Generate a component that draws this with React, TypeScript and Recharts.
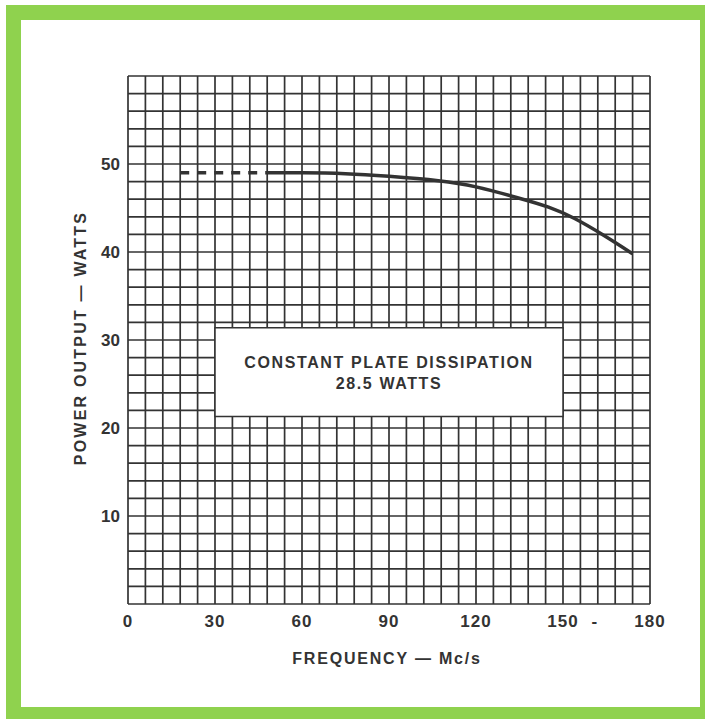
import {
  LineChart,
  Line,
  XAxis,
  YAxis,
  CartesianGrid,
  ReferenceArea,
  Label,
} from "recharts";

// dashed (extrapolated) part of the curve
const dashedPart = [
  { freq: 18, watts: 49.0 },
  { freq: 48, watts: 49.0 },
];

// measured part of the curve
const solidPart = [
  { freq: 48, watts: 49.0 },
  { freq: 60, watts: 49.0 },
  { freq: 75, watts: 48.9 },
  { freq: 90, watts: 48.6 },
  { freq: 107, watts: 48.1 },
  { freq: 120, watts: 47.4 },
  { freq: 134, watts: 46.2 },
  { freq: 145, watts: 45.1 },
  { freq: 154, watts: 43.8 },
  { freq: 164, watts: 41.9 },
  { freq: 174, watts: 39.8 },
];

const xTicks = [0, 30, 60, 90, 120, 150, 161, 180];
const yTicks = [10, 20, 30, 40, 50];

const noteLines = ["CONSTANT PLATE DISSIPATION", "28.5 WATTS"];

// graph paper: a line every 6 Mc/s and every 2 watts
const gridX = Array.from({ length: 31 }, (_, i) => i * 6);
const gridY = Array.from({ length: 31 }, (_, i) => i * 2);

const ink = "#333333";
const green = "#8fd24e";
const font = "'Liberation Sans', Arial, sans-serif";

const NoteLabel = (props: any) => {
  const { viewBox } = props;
  const cx = viewBox.x + viewBox.width / 2;
  const cy = viewBox.y + viewBox.height / 2;
  return (
    <g>
      {noteLines.map((t, i) => (
        <text
          key={i}
          x={cx}
          y={cy - 4 + i * 21}
          textAnchor="middle"
          fontFamily={font}
          fontWeight="bold"
          fontSize={16}
          letterSpacing={1.6}
          fill={ink}
        >
          {t}
        </text>
      ))}
    </g>
  );
};

export default function App() {
  return (
    <div
      style={{
        position: "absolute",
        left: 0,
        top: 0,
        width: 705,
        height: 719,
        background: "#ffffff",
      }}
    >
      <div
        style={{
          position: "absolute",
          left: 6,
          top: 5,
          width: 699,
          height: 714,
          border: `solid ${green}`,
          borderWidth: "15px 5px 12px 15px",
          boxSizing: "border-box",
        }}
      />
      <div style={{ position: "absolute", left: 0, top: 0 }}>
        <LineChart
          width={705}
          height={719}
          margin={{ top: 76, right: 55, bottom: 75, left: 68 }}
        >
          <CartesianGrid
            stroke={ink}
            strokeWidth={1.7}
            horizontalValues={gridY}
            verticalValues={gridX}
          />
          <XAxis
            type="number"
            dataKey="freq"
            domain={[0, 180]}
            ticks={xTicks}
            interval={0}
            height={40}
            axisLine={false}
            tickLine={false}
            tickFormatter={(v: number) => (v === 161 ? "-" : String(v))}
            tick={{
              fontFamily: font,
              fontWeight: "bold",
              fontSize: 17,
              letterSpacing: 1,
              fill: ink,
              dy: 3,
            }}
          />
          <YAxis
            type="number"
            domain={[0, 60]}
            ticks={yTicks}
            interval={0}
            width={60}
            axisLine={false}
            tickLine={false}
            tick={{
              fontFamily: font,
              fontWeight: "bold",
              fontSize: 17,
              fill: ink,
            }}
          />
          <ReferenceArea
            x1={30}
            x2={150}
            y1={21.3}
            y2={31.4}
            fill="#ffffff"
            fillOpacity={1}
            stroke={ink}
            strokeWidth={1.5}
            ifOverflow="visible"
          >
            <Label content={NoteLabel} />
          </ReferenceArea>
          <Line
            data={dashedPart}
            dataKey="watts"
            type="linear"
            stroke={ink}
            strokeWidth={3.5}
            strokeDasharray="9 8"
            dot={false}
            isAnimationActive={false}
          />
          <Line
            data={solidPart}
            dataKey="watts"
            type="natural"
            stroke={ink}
            strokeWidth={3.5}
            dot={false}
            isAnimationActive={false}
          />
        </LineChart>
      </div>
      <div
        style={{
          position: "absolute",
          left: 0,
          top: 0,
          width: 705,
          height: 719,
          pointerEvents: "none",
        }}
      >
        <svg width={705} height={719}>
          <text
            x={387}
            y={664}
            textAnchor="middle"
            fontFamily={font}
            fontWeight="bold"
            fontSize={16}
            letterSpacing={1.8}
            fill={ink}
          >
            FREQUENCY — Mc/s
          </text>
          <text
            x={86}
            y={338}
            transform="rotate(-90 86 338)"
            textAnchor="middle"
            fontFamily={font}
            fontWeight="bold"
            fontSize={16}
            letterSpacing={2.2}
            fill={ink}
          >
            POWER OUTPUT — WATTS
          </text>
        </svg>
      </div>
    </div>
  );
}
